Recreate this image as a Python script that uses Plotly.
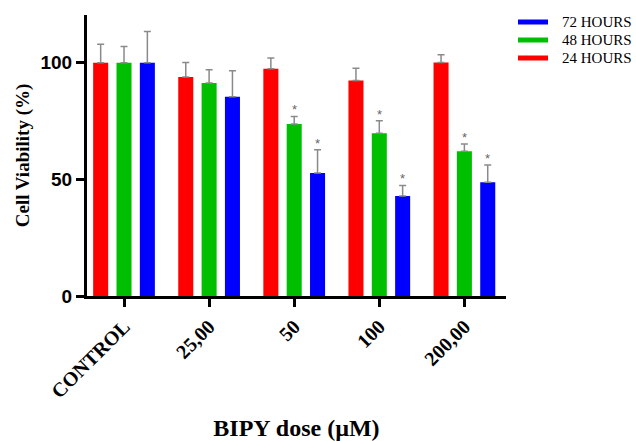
import plotly.graph_objects as go

categories = ["CONTROL", "25,00", "50", "100", "200,00"]
h24 = [100.0, 93.9, 97.4, 92.4, 100.1]
err24 = [8.0, 6.2, 4.7, 5.3, 3.4]
h48 = [100.0, 91.3, 73.8, 69.8, 62.1]
err48 = [7.0, 5.7, 3.2, 5.3, 3.1]
h72 = [100.0, 85.4, 52.7, 42.9, 48.8]
err72 = [13.4, 11.2, 10.0, 4.5, 7.4]
signif48 = [False, False, True, True, True]
signif72 = [False, False, True, True, True]
series_names = ["24 HOURS", "48 HOURS", "72 HOURS"]
colors = ["#FF0000", "#00BF00", "#0000FF"]

BARGAP = 0.177
BARGROUPGAP = 0.356
SERIF = "Liberation Serif"
SANS = "Liberation Sans"

W, H = 636, 441
ML, MR, MT, MB = 87, 130, 15, 145
PW, PH = W - ML - MR, H - MT - MB


def px_to_paper_x(px):
    return (px - ML) / PW


def px_to_paper_y(py):
    return (H - MB - py) / PH


fig = go.Figure()
series = [(h24, err24), (h48, err48), (h72, err72)]
for (vals, errs), name, col in zip(series, series_names, colors):
    fig.add_trace(go.Bar(
        x=categories, y=vals, name=name, marker=dict(color=col, line=dict(width=0)),
        showlegend=False,
        error_y=dict(type="data", symmetric=False, array=errs, arrayminus=[0] * len(errs),
                     color="#8a8a8a", thickness=1.5, width=3.5),
    ))

slot = (1 - BARGAP) / 3
annotations = []
# green bars sit at the group centre, blue bars one slot to the right
for offset, (vals, errs, sig) in [(0, (h48, err48, signif48)), (1, (h72, err72, signif72))]:
    for i, (v, e, s) in enumerate(zip(vals, errs, sig)):
        if s:
            annotations.append(dict(x=i + offset * slot, y=v + e, xref="x", yref="y",
                                    text="*", showarrow=False, yanchor="bottom", yshift=-3,
                                    font=dict(family=SANS, size=13, color="#666666")))

# legend (72, 48, 24 from top), drawn as line swatches + labels
shapes = []
legend_rows = [22, 40, 58]
for row_y, name, col in zip(legend_rows, reversed(series_names), reversed(colors)):
    yy = px_to_paper_y(row_y)
    shapes.append(dict(type="line", xref="paper", yref="paper",
                       x0=px_to_paper_x(518), x1=px_to_paper_x(548), y0=yy, y1=yy,
                       line=dict(color=col, width=5)))
    annotations.append(dict(x=px_to_paper_x(560), y=yy, xref="paper", yref="paper",
                            text=name, showarrow=False, xanchor="left", yanchor="middle",
                            font=dict(family=SERIF, size=15, color="black")))

fig.update_layout(
    width=W, height=H,
    margin=dict(l=ML, r=MR, t=MT, b=MB),
    paper_bgcolor="white", plot_bgcolor="white",
    barmode="group", bargap=BARGAP, bargroupgap=BARGROUPGAP,
    annotations=annotations, shapes=shapes, showlegend=False,
    xaxis=dict(
        range=[-0.435, 4.489], showline=True, linecolor="black", linewidth=3,
        ticks="outside", ticklen=8, tickwidth=2.5, tickcolor="black", automargin=False,
        tickangle=-45, tickfont=dict(family=SERIF, size=20, color="black", weight="bold"),
        title=dict(text="BIPY dose (\u00b5M)", standoff=25,
                   font=dict(family=SERIF, size=24, color="black", weight="bold")),
        showgrid=False, zeroline=False,
    ),
    yaxis=dict(
        range=[0, 120.5], showline=True, linecolor="black", linewidth=3,
        ticks="outside", ticklen=8, tickwidth=2.5, tickcolor="black", automargin=False,
        tickvals=[0, 50, 100], tickfont=dict(family=SANS, size=19, color="black", weight="bold"),
        title=dict(text="Cell Viability (%)", standoff=6,
                   font=dict(family=SERIF, size=19, color="black", weight="bold")),
        showgrid=False, zeroline=False,
    ),
)

# remove the default 8px page margin so the 636x441 figure fills the window exactly
fig.write_html(
    "out.html",
    config={"displayModeBar": False},
    post_script="document.body.style.margin='0px';"
                "document.documentElement.style.overflow='hidden';",
)
